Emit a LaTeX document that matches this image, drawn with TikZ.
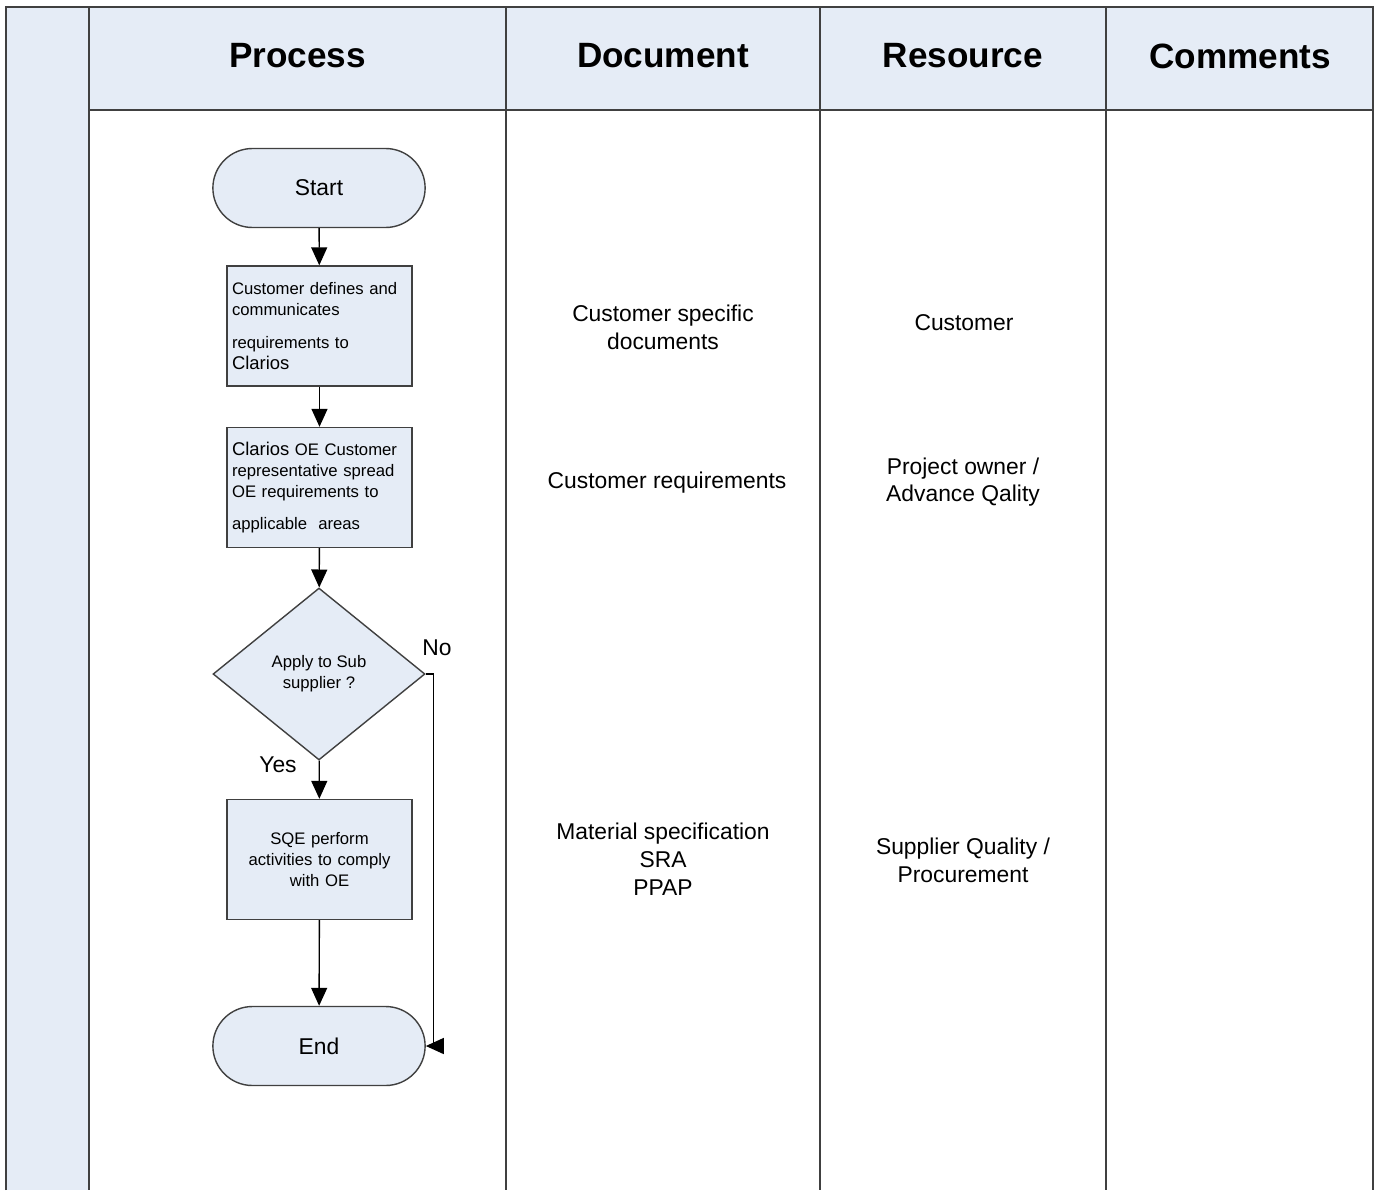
\documentclass[tikz,border=0pt]{standalone}
\usepackage{fontspec}
\setmainfont{Liberation Sans}
\usetikzlibrary{positioning,shapes,arrows.meta}
\definecolor{laneblue}{RGB}{229,236,246}
\definecolor{edgegray}{RGB}{64,64,64}

\begin{document}
\begin{tikzpicture}
    [x=0.02cm, y=-0.02cm, font=\fontsize{13}{15.8}\selectfont,
    lane/.style={draw=edgegray, line width=1.1pt},
    head/.style={font=\bfseries\fontsize{20}{24}\selectfont},
    cell/.style={align=center},
    term/.style={rounded rectangle, draw=edgegray, fill=laneblue,
    line width=0.8pt, minimum width=4.48cm, minimum height=1.58cm},
    act/.style={rectangle, draw=edgegray, fill=laneblue, line width=0.8pt,
    text width=3.5cm, inner xsep=0.1cm, minimum height=2.4cm,
    font=\fontsize{9.5}{12}\selectfont},
    decide/.style={diamond, draw=edgegray, fill=laneblue, line width=0.8pt,
    minimum width=4.24cm, minimum height=3.44cm, inner sep=0pt, align=center,
    font=\fontsize{9.5}{12}\selectfont},
    flow/.style={draw=black, line width=0.8pt,
    -{Triangle[length=0.36cm, width=0.32cm]}}]
    \useasboundingbox (0,0) rectangle (1375,1190);

    % lanes
    \fill[laneblue] (6,7) rectangle (1373,110);
    \fill[laneblue] (6,7) rectangle (89,1190);
    \draw[lane] (6,1190) -- (6,7) -- (1373,7) -- (1373,1190);
    \draw[lane] (89,110) -- (1373,110);
    \draw[lane] (89,7) -- (89,1190);
    \draw[lane] (506,7) -- (506,1190);
    \draw[lane] (820,7) -- (820,1190);
    \draw[lane] (1106,7) -- (1106,1190);

    \node[head] (hprocess) at (297.5,56) {Process};
    \node[head] (hdocument) at (663,56) {Document};
    \node[head] (hresource) at (963,56) {Resource};
    \node[head] (hcomments) at (1240,56) {Comments};

    % process flow
    \node[term] (start) at (319,188) {Start};
    \node[act, align=left] (define) at (319.5,326)
        {Customer defines and\\ communicates\\[1.3ex] requirements to\\
        {\fontsize{10.5}{12}\selectfont Clarios}};
    \node[act, align=left] (spread) at (319.5,487.5)
        {{\fontsize{10.5}{12}\selectfont Clarios} OE Customer\\
        representative spread\\ OE requirements to\\[1.2ex] applicable~~areas};
    \node[decide] (apply) at (319,674) {Apply to Sub\\ supplier ?};
    \node[act, align=center] (sqe) at (319.5,859.5)
        {SQE perform\\ activities to comply\\ with OE};
    \node[term] (finish) at (319,1046) {End};

    \node (yes) at (278,765) {Yes};
    \node (no) at (437,648) {No};

    \draw[flow] (start) -- (define);
    \draw[flow] (define) -- (spread);
    \draw[flow] (spread) -- (apply);
    \draw[flow] (apply) -- (sqe);
    \draw[flow] (sqe) -- (finish);
    \draw[flow] (apply.east) -- ++(8,0) |- (finish.east);

    % documents
    \node[cell] (docspec) at (663,327) {Customer specific\\ documents};
    \node[cell] (docreq) at (667,483) {Customer requirements};
    \node[cell] (docmat) at (663,859) {Material specification\\ SRA\\ PPAP};

    % resources
    \node[cell] (rescust) at (964,323) {Customer};
    \node[cell] (resowner) at (963,482) {Project owner /\\ Advance Qality};
    \node[cell] (ressupp) at (963,860) {Supplier Quality /\\ Procurement};
\end{tikzpicture}
\end{document}
